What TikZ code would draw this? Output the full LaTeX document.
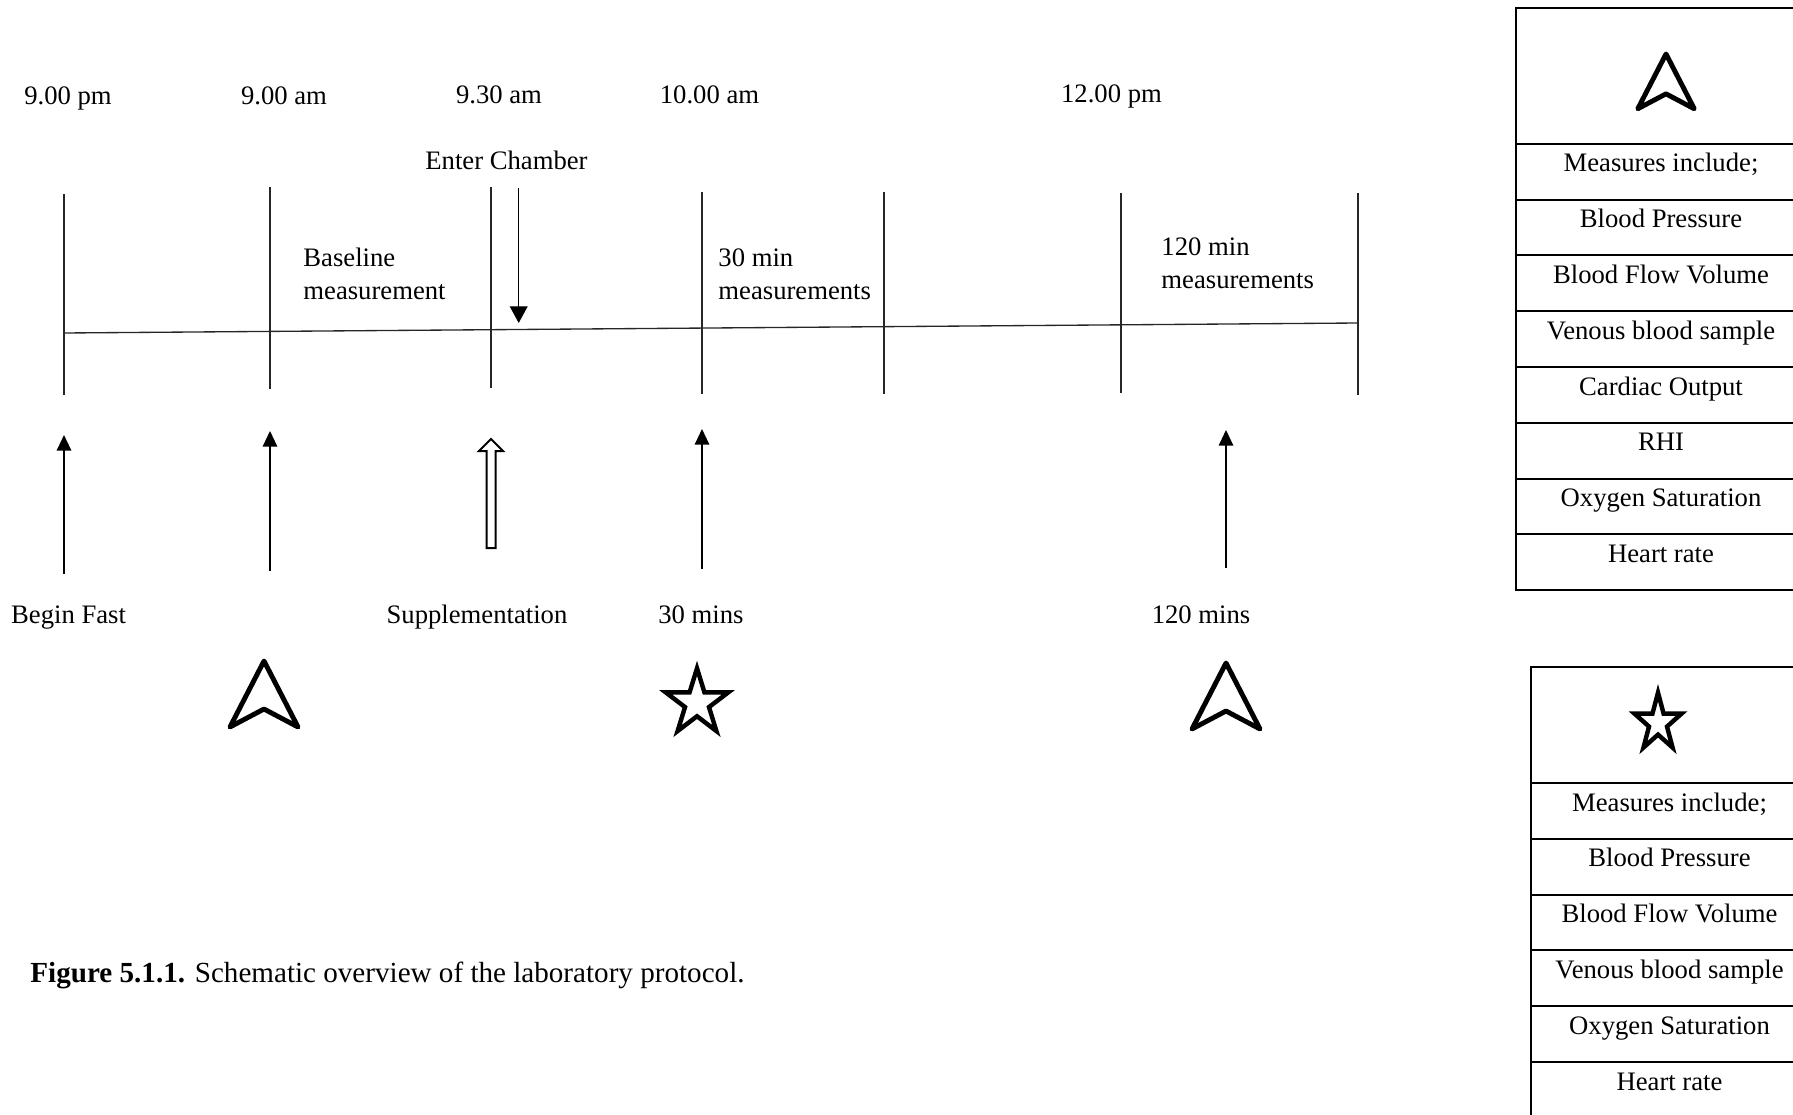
\documentclass[tikz,border=0pt]{standalone}
\usepackage{fontspec}
\setmainfont{Liberation Serif}
\usetikzlibrary{arrows.meta, positioning}

\begin{document}
\begin{tikzpicture}[
  x=0.45pt, y=-0.45pt,
  txt/.style={font=\fontsize{12}{14.9}\selectfont, inner sep=0pt, anchor=base, align=left},
  tickline/.style={draw=black!85, line width=0.6pt},
  boxline/.style={draw=black, line width=0.9pt},
  uparrow/.style={draw, line width=0.6pt, -{Triangle[width=6.5pt, length=7pt]}},
  downarrow/.style={draw, line width=0.6pt, -{Triangle[width=8pt, length=7.5pt]}},
  navmark/.pic={\draw[line width=2.2pt, line join=round] (0,0) -- (34,66) -- (0,48) -- (-34,66) -- cycle;},
  starmark/.pic={\draw[line width=2pt, line join=miter]
    (-90:33) -- (-54:12.6) -- (-18:33) -- (18:12.6) -- (54:33) -- (90:12.6)
    -- (126:33) -- (162:12.6) -- (198:33) -- (234:12.6) -- cycle;},
]
  \clip (0,0) rectangle (1793,1115);

  % time axis
  \draw[tickline] (64,333) coordinate (axis-start) -- (1358,323) coordinate (axis-end);
  \foreach \x/\top/\bot [count=\i] in {64/194/395, 270/187/389, 491/187/388, 702/192/394,
                                        884/192/394, 1121/193/393, 1358/193/395}
    \draw[tickline] (\x,\top) coordinate (tick\i-top) -- (\x,\bot) coordinate (tick\i-bot);

  % clock times
  \node[txt] (t-fast) at (68,105) {9.00 pm};
  \node[txt] (t-base) at (284,105) {9.00 am};
  \node[txt] (t-supp) at (499,103.5) {9.30 am};
  \node[txt] (t-thirty) at (709.5,103.5) {10.00 am};
  \node[txt] (t-onetwenty) at (1111.5,102.5) {12.00 pm};

  % phases above the axis
  \node[txt] (chamber) at (506.5,170) {Enter Chamber};
  \coordinate (chamber-tail) at (518.7,188);
  \coordinate (chamber-tip) at (518.7,323);
  \draw[downarrow] (chamber-tail) -- (chamber-tip);
  \node[txt, anchor=base west] (baseline) at (303,300) {Baseline\\measurement};
  \node[txt, anchor=base west] (thirty) at (718,300) {30 min\\measurements};
  \node[txt, anchor=base west] (onetwenty) at (1161,289) {120 min\\measurements};

  % events below the axis
  \foreach \x/\a/\b [count=\i] in {64/574/435, 270/571/431, 702/569/429, 1226/568/430}
    \draw[uparrow] (\x,\a) coordinate (up\i-tail) -- (\x,\b) coordinate (up\i-tip);
  \coordinate (supp-tip) at (491,439);
  \draw[line width=0.9pt] (supp-tip) -- ++(12,12) -- ++(-7.5,0) -- ++(0,97) -- ++(-9,0)
    -- ++(0,-97) -- ++(-7.5,0) -- cycle;
  \node[txt] (fast) at (68.6,623) {Begin Fast};
  \node[txt] (supp) at (477,623) {Supplementation};
  \node[txt] (mins30) at (701,623) {30 mins};
  \node[txt] (mins120) at (1201,623) {120 mins};

  % measurement markers
  \pic at (264,661) {navmark};
  \pic[yscale=1.05] at (697,703) {starmark};
  \pic at (1226,663) {navmark};

  \node[txt, anchor=base west, font=\fontsize{13.1}{15}\selectfont] (caption) at (30,982)
    {\textbf{Figure 5.1.1.} Schematic overview of the laboratory protocol.};

  % legend: full measures
  \draw[boxline] (1516,8) rectangle (1808,590);
  \foreach \yy in {144,199.75,255.5,311.25,367,422.75,478.5,534.25}
    \draw[boxline] (1516,\yy) -- (1808,\yy);
  \pic[scale=0.83] at (1666,54) {navmark};
  \foreach \item [count=\i] in {Measures include;, Blood Pressure, Blood Flow Volume,
      Venous blood sample, Cardiac Output, RHI, Oxygen Saturation, Heart rate}
    \node[txt] (full\i) at (1661,{144+55.75*(\i-1)+28}) {\item};

  % legend: short measures
  \draw[boxline] (1531,667) rectangle (1808,1130);
  \foreach \yy in {783,838.8,894.6,950.4,1006.2,1062}
    \draw[boxline] (1531,\yy) -- (1808,\yy);
  \pic[xscale=0.75, yscale=0.92] at (1658,723) {starmark};
  \foreach \item [count=\i] in {Measures include;, Blood Pressure, Blood Flow Volume,
      Venous blood sample, Oxygen Saturation, Heart rate}
    \node[txt] (short\i) at (1669.5,{783+55.8*(\i-1)+28}) {\item};
\end{tikzpicture}
\end{document}
